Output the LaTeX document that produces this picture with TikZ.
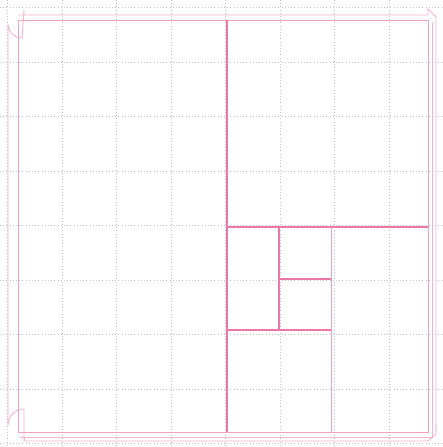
\documentclass[tikz,border=0pt]{standalone}
\definecolor{pinkA}{RGB}{236,118,168}
\definecolor{pinkB}{RGB}{240,160,195}
\definecolor{pinkC}{RGB}{244,180,208}
\begin{document}
\begin{tikzpicture}[x=1pt,y=-1pt,
  gridline/.style={gray!50,line width=0.6pt,dash pattern=on 0.6pt off 2.6pt},
  frameline/.style={draw=pinkC,line width=0.9pt},
  strong/.style={draw=pinkA,line width=1.3pt},
  medium/.style={draw=pinkB,line width=1pt}]
\useasboundingbox (0,0) rectangle (442,447);
\fill[white] (0,0) rectangle (442,447);
% grid
\foreach \g in {7.5,62,116.5,171,225.5,280,334.5,389}{
  \draw[gridline] (\g,0) -- (\g,447);
  \draw[gridline] (0,\g) -- (442,\g);
}
\draw[gridline] (0,443.5) -- (442,443.5);
% outer frame
\draw[frameline] (8,425) -- (8,24) arc[start angle=180,end angle=90,radius=14] -- (24,10) -- (24,15);
\draw[frameline] (18,15) -- (428,15) -- (428,9) -- (436,17) -- (436,432);
\draw[frameline] (8,425) arc[start angle=180,end angle=270,radius=16] -- (24,441) -- (428,441) -- (436,434) -- (436,425);
\draw[frameline] (24,441) -- (24,437);
\draw[frameline] (20,437) -- (432,437) -- (432,22);
% main square
\draw[medium] (18,20) rectangle (428,432);
% subdivisions
\coordinate (a1) at (227,20);
\coordinate (a2) at (227,432);
\draw[strong] (a1) -- (a2);
\coordinate (b1) at (227,227);
\coordinate (b2) at (428,227);
\draw[strong] (b1) -- (b2);
\coordinate (c1) at (331,227);
\coordinate (c2) at (331,432);
\draw[medium] (c1) -- (c2);
\coordinate (d1) at (227,330);
\coordinate (d2) at (331,330);
\draw[strong] (d1) -- (d2);
\coordinate (e1) at (279,227);
\coordinate (e2) at (279,330);
\draw[strong] (e1) -- (e2);
\coordinate (f1) at (279,279);
\coordinate (f2) at (331,279);
\draw[strong] (f1) -- (f2);
\end{tikzpicture}
\end{document}
